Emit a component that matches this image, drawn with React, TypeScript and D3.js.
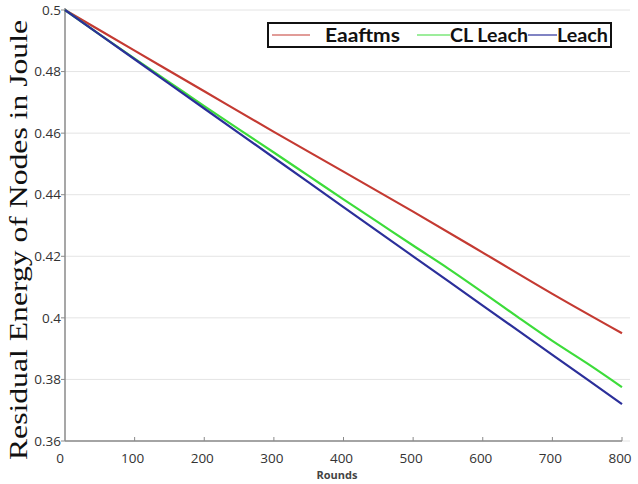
import React from "react";
import * as d3 from "d3";

const rounds = [0, 100, 200, 300, 400, 500, 600, 700, 800];
const eaaftms = [0.5, 0.4868, 0.4736, 0.4604, 0.4475, 0.4345, 0.4212, 0.4078, 0.395];
const clRounds = [0, 50, 100, 150, 200, 250, 300, 350, 400, 450, 500, 550, 600, 650, 700, 750, 800];
const clLeach = [0.5, 0.492, 0.4842, 0.4765, 0.4688, 0.4612, 0.4537, 0.4461, 0.4385, 0.431, 0.4235, 0.4161, 0.4083, 0.4003, 0.3925, 0.3852, 0.3775];
const leach = [0.5, 0.484, 0.468, 0.452, 0.436, 0.42, 0.404, 0.388, 0.372];
const xTicks = [0, 100, 200, 300, 400, 500, 600, 700, 800];
const yTicks = [0.36, 0.38, 0.4, 0.42, 0.44, 0.46, 0.48, 0.5];
const yTickLabels = ["0.36", "0.38", "0.4", "0.42", "0.44", "0.46", "0.48", "0.5"];
const seriesNames = ["Eaaftms", "CL Leach", "Leach"];
const seriesColors = ["#c43a32", "#3ddc3a", "#2b2f9a"];

export default function App() {
  const x = d3.scaleLinear().domain([0, 800]).range([65, 622]);
  const y = d3.scaleLinear().domain([0.36, 0.5]).range([441, 10]);
  const line = d3
    .line<[number, number]>()
    .x((d) => x(d[0]))
    .y((d) => y(d[1]))
    .curve(d3.curveMonotoneX);
  const series: [number, number][][] = [
    rounds.map((r, i) => [r, eaaftms[i]]),
    clRounds.map((r, i) => [r, clLeach[i]]),
    rounds.map((r, i) => [r, leach[i]]),
  ];
  const tickFont = "'Open Sans', 'Liberation Sans', sans-serif";
  const legendItems = [
    { x1: 272, x2: 310, tx: 325, tw: 75 },
    { x1: 417, x2: 450, tx: 450, tw: 78 },
    { x1: 528, x2: 557, tx: 557, tw: 51 },
  ];
  return (
    <svg
      width={638}
      height={484}
      style={{ position: "absolute", left: 0, top: 0, background: "#fff" }}
    >
      {yTicks.map((t) => (
        <line key={"g" + t} x1={65} x2={630} y1={y(t)} y2={y(t)} stroke="#e4e4e4" strokeWidth={1} />
      ))}
      <line x1={65} x2={65} y1={8} y2={441} stroke="#8a8a8a" strokeWidth={1.5} />
      <line x1={65} x2={622} y1={441} y2={441} stroke="#8a8a8a" strokeWidth={1.5} />
      {yTicks.map((t, i) => (
        <g key={"y" + t}>
          <line x1={61} x2={65} y1={y(t)} y2={y(t)} stroke="#8a8a8a" />
          <text
            x={61}
            y={y(t)}
            dy="0.35em"
            textAnchor="end"
            fontFamily={tickFont}
            fontSize={13.5}
            fill="#333"
          >
            {yTickLabels[i]}
          </text>
        </g>
      ))}
      {xTicks.map((t) => (
        <g key={"x" + t}>
          {t > 0 && <line x1={x(t)} x2={x(t)} y1={441} y2={437} stroke="#8a8a8a" />}
          <text
            x={x(t) - (t === 0 ? 5 : 2)}
            y={463}
            textAnchor="middle"
            fontFamily={tickFont}
            fontSize={13.5}
            fill="#333"
          >
            {t}
          </text>
        </g>
      ))}
      <text
        x={337}
        y={479}
        textAnchor="middle"
        fontFamily={tickFont}
        fontSize={11}
        fontWeight="bold"
        fill="#444"
      >
        Rounds
      </text>
      <text
        transform="translate(27,240) rotate(-90)"
        textAnchor="middle"
        fontFamily="'Liberation Serif', 'Times New Roman', serif"
        fontSize={26}
        fill="#111"
        textLength={440}
        lengthAdjust="spacingAndGlyphs"
      >
        Residual Energy of Nodes in Joule
      </text>
      {series.map((s, i) => (
        <path key={"s" + i} d={line(s) || ""} fill="none" stroke={seriesColors[i]} strokeWidth={2.2} />
      ))}
      <rect x={268} y={23} width={343} height={24} fill="#fff" stroke="#111" strokeWidth={2} />
      {legendItems.map((it, i) => (
        <g key={"l" + i}>
          <line x1={it.x1} x2={it.x2} y1={35} y2={35} stroke={seriesColors[i]} strokeWidth={1.2} />
          <text
            x={it.tx}
            y={42}
            fontFamily="'Lato', 'Open Sans', sans-serif"
            fontWeight="bold"
            fontSize={19}
            fill="#111"
            textLength={it.tw}
            lengthAdjust="spacingAndGlyphs"
          >
            {seriesNames[i]}
          </text>
        </g>
      ))}
    </svg>
  );
}
